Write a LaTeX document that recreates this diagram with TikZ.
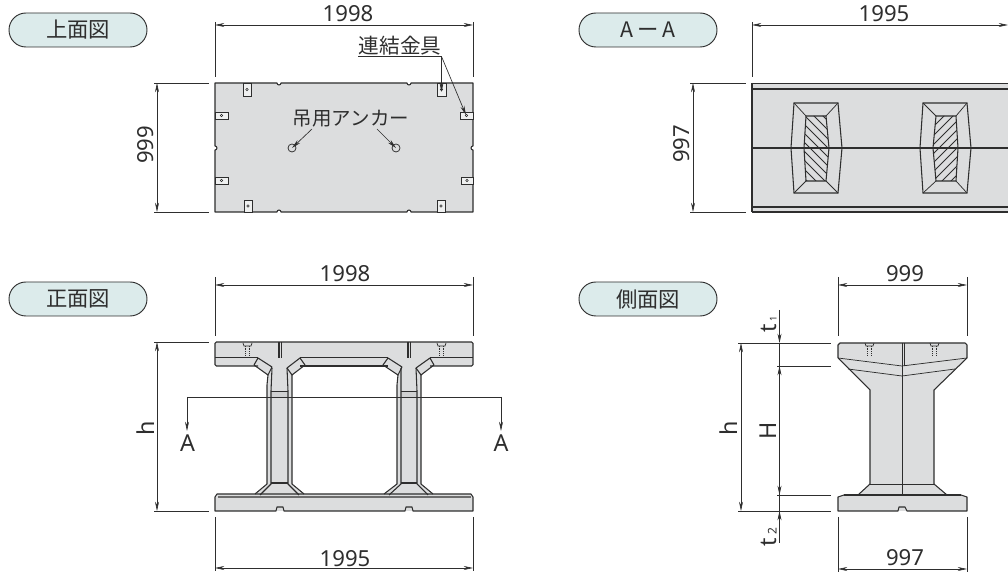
\documentclass[tikz,border=0pt]{standalone}
\usepackage{fontspec}
\setmainfont{Noto Sans}
\newfontfamily\jpf{Noto Sans CJK JP}[Scale=1]
\usetikzlibrary{arrows.meta}
\definecolor{body}{HTML}{DCDDDE}
\definecolor{pillf}{HTML}{DCEBEB}
\definecolor{ink}{HTML}{2E2E2E}
\tikzset{
  pill/.style={draw=ink,line width=0.7pt,fill=pillf,rounded corners=12.7pt,minimum width=103.5pt,minimum height=25.5pt,inner sep=0pt,font=\jpf\fontsize{16pt}{16pt}\selectfont,text=ink},
  lbl/.style={inner sep=0pt,text=ink,font=\fontsize{16.6pt}{17pt}\selectfont},
  letr/.style={inner sep=0pt,text=ink,font=\fontsize{17.5pt}{18pt}\selectfont},
  jl/.style={inner sep=0pt,text=ink,font=\jpf\fontsize{14.6pt}{15pt}\selectfont},
  jm/.style={inner sep=0pt,text=ink,font=\jpf\fontsize{15.5pt}{16pt}\selectfont},
  dimline/.style={draw=ink,line width=0.5pt,{Stealth[length=7pt,width=3pt]}-{Stealth[length=7pt,width=3pt]}},
  extline/.style={draw=ink,line width=0.5pt},
  leadline/.style={draw=ink,line width=0.5pt,-{Stealth[length=7pt,width=3pt]}},
  outl/.style={draw=ink,line width=0.8pt},
  tn/.style={draw=ink,line width=0.55pt},
  hvy/.style={draw=ink,line width=0.95pt},
  gfill/.style={fill=body,draw=none},
  hidd/.style={draw=ink,line width=0.3pt,densely dotted}
}
\newcommand{\winshape}[9]{%
  \draw[outl] (#1,103) -- (#2,103) -- (#4,148) -- (#2,193) -- (#1,193) -- (#3,148) -- cycle;
  \begin{scope}
    \clip (#5,116) -- (#6,116) -- (#8,148) -- (#6,181) -- (#5,181) -- (#7,148) -- cycle;
    \foreach \k in {-60,-51,...,70} {
      \draw[tn] ({#5+#9*(\k-30)+(1-#9)*8},90) -- ({#5+#9*(\k+80)+(1-#9)*8},200);
    }
  \end{scope}
  \draw[outl] (#5,116) -- (#6,116) -- (#8,148) -- (#6,181) -- (#5,181) -- (#7,148) -- cycle;
  \draw[tn] (#1,103) -- (#5,116) (#2,103) -- (#6,116) (#1,193) -- (#5,181) (#2,193) -- (#6,181);
}
\newcommand{\bolt}[2]{%
  \draw[tn] (#1,343) -- (#1+1,346) -- (#2-1,346) -- (#2,343);
  \draw[hidd] (#1+2.5,346) -- (#1+2.5,355) (#2-2.5,346) -- (#2-2.5,355);
}
\begin{document}
\begin{tikzpicture}[x=0.75pt,y=-0.75pt]
\useasboundingbox (0,0) rectangle (1008,573);
\clip (0,0) rectangle (1008,573);

% ---------- pills
\node[pill] (p1) at (78,30) {上面図};
\node[pill] (p2) at (648,30) {A\kern3pt ー\kern3pt A};
\node[pill] (p3) at (78,299) {正面図};
\node[pill] (p4) at (648,299) {側面図};

% ---------- plan view
\draw[outl,fill=body,line join=round] (215,83) -- (277,83) arc[start angle=180,end angle=0,radius=2] -- (407,83) arc[start angle=180,end angle=0,radius=2] -- (473,83)
  -- (473,146) arc[start angle=270,end angle=90,radius=2] -- (473,212)
  -- (411,212) arc[start angle=0,end angle=-180,radius=2] -- (281,212) arc[start angle=0,end angle=-180,radius=2] -- (215,212)
  -- (215,150) arc[start angle=90,end angle=-90,radius=2] -- cycle;
\foreach \xa/\xb/\ya/\yb in {243/251/83/96,437/446/83/96,244/252/200/212,437/445/200/212,215/228/112/119,460/473/112/119,215/228/177/184,461/473/177/184}{
  \draw[tn,fill=white!55!body] (\xa,\ya) rectangle (\xb,\yb);
  \draw[line width=0.4pt,draw=ink] ({(\xa+\xb)/2},{(\ya+\yb)/2}) circle[radius=1.3];
}
\coordinate (a1) at (292,148); \coordinate (a2) at (396,148);
\draw[tn] (a1) circle[radius=4]; \draw[tn] (a2) circle[radius=4];
\node[jl] (anc) at (351,119) {吊用アンカー};
\coordinate (a1s) at (312,129); \coordinate (a2s) at (377,129);
\draw[leadline] (a1s) -- (a1); \draw[leadline] (a2s) -- (a2);
\node[jm] (ren) at (400,46) {連結金具};
\coordinate (u1) at (358,56.5); \coordinate (u2) at (441.5,56.5);
\coordinate (k1) at (441.5,92); \coordinate (k2) at (466,115);
\draw[extline] (u1) -- (u2); \draw[leadline] (u2) -- (k1); \draw[leadline] (u2) -- (k2);
% dims
\coordinate (d1a) at (215,25); \coordinate (d1b) at (473,25);
\draw[dimline] (d1a) -- (d1b);
\draw[extline] (215,22) -- (215,77) (473,22) -- (473,77);
\node[lbl] (t1998a) at (348,14) {1998};
\coordinate (d2a) at (157,83); \coordinate (d2b) at (157,212);
\draw[dimline] (d2a) -- (d2b);
\draw[extline] (154,83) -- (209,83) (154,212) -- (209,212);
\node[lbl,rotate=90] (t999a) at (146,145) {999};

% ---------- section A-A
\path[gfill] (752,83) rectangle (1010,212);
\draw[hvy] (752,83.5) -- (1010,83.5) (752,89) -- (1010,89) (752,207) -- (1010,207) (752,212) -- (1010,212);
\draw[outl] (752,83) -- (752,212);
\draw[outl] (752,148) -- (1010,148);
\winshape{794}{838}{791}{842}{806}{826}{804}{829}{1}
\winshape{923}{967}{920}{971}{936}{956}{933}{958}{-1}
\coordinate (d3a) at (752,25); \coordinate (d3b) at (1008,25);
\draw[dimline] (d3a) -- (d3b);
\draw[extline] (752,22) -- (752,77);
\node[lbl] (t1995a) at (884,14) {1995};
\coordinate (d4a) at (693,83); \coordinate (d4b) at (693,212);
\draw[dimline] (d4a) -- (d4b);
\draw[extline] (690,83) -- (746,83) (690,212) -- (746,212);
\node[lbl,rotate=90] (t997a) at (682,144) {997};

% ---------- front view
\path[gfill] (215,342) rectangle (473,366);
\path[gfill] (215,497) -- (217,494) -- (471,494) -- (473,497) -- (473,511) -- (215,511) -- cycle;
\path[gfill] (258,358) -- (254,365) -- (268,375) -- (267,385) -- (267,484) -- (255,494) -- (305,494) -- (292,484) -- (292,375) -- (305,365) -- (300,358) -- cycle;
\path[gfill] (388,358) -- (383,365) -- (397,375) -- (397,484) -- (384,494) -- (433,494) -- (421,484) -- (421,375) -- (434,365) -- (430,358) -- cycle;
\fill[black!6!body] (271,391) rectangle (288,397) (401,391) rectangle (417,397);
% top slab
\draw[outl,rounded corners=1pt] (258,366) -- (215,366) -- (215,342) -- (473,342) -- (473,366) -- (430,366);
\draw[hvy] (215,357.5) -- (258,357.5) (300,357.5) -- (388,357.5) (430,357.5) -- (473,357.5);
\draw[outl] (300,366) -- (388,366);
\draw[outl] (279,342) -- (279,358) (281.5,342) -- (281.5,358) (408,342) -- (408,358) (410.5,342) -- (410.5,358);
\bolt{243}{252}
\bolt{437}{446}
% haunches left column
\draw[outl,line join=round] (258,358) -- (272,367) -- (268,375) -- (254,365) -- cycle;
\draw[outl,line join=round] (300,358) -- (305,365) -- (292,375) -- (287,368) -- cycle;
\draw[outl] (268,375) -- (267,385) -- (267,484) -- (255,494);
\draw[outl] (292,375) -- (292,484) -- (304,494);
\draw[outl] (272,368) -- (271,391) -- (271,484) -- (260,495);
\draw[outl] (287,368) -- (288,391) -- (288,484) -- (299,495);
\draw[tn] (271,391) -- (288,391);
\draw[outl] (271,483) -- (288,483);
% haunches right column
\draw[outl,line join=round] (388,358) -- (402,367) -- (398,375) -- (383,365) -- cycle;
\draw[outl,line join=round] (430,358) -- (434,365) -- (421,375) -- (416,368) -- cycle;
\draw[outl] (398,375) -- (397,385) -- (397,484) -- (384,494);
\draw[outl] (421,375) -- (421,484) -- (433,494);
\draw[outl] (401,368) -- (401,391) -- (401,484) -- (389,495);
\draw[outl] (416,368) -- (417,391) -- (417,484) -- (428,495);
\draw[tn] (401,391) -- (417,391);
\draw[outl] (401,483) -- (417,483);
% bottom slab
\draw[outl,line join=round] (215,497) -- (217,494) -- (471,494) -- (473,497) -- (473,511) -- (413,511) -- (412,507) -- (406,507) -- (405,511) -- (284,511) -- (283,507) -- (277,507) -- (276,511) -- (215,511) -- cycle;
\draw[hvy,draw=ink!70] (218,497) -- (471,497);
% section line
\coordinate (s1) at (187,397); \coordinate (s2) at (501,397);
\coordinate (s1e) at (187,431); \coordinate (s2e) at (501,431);
\draw[leadline] (s1) -- (s1e);
\draw[leadline] (s2) -- (s2e);
\draw[extline] (s1) -- (s2);
\node[letr] (ta1) at (187.5,443.5) {A};
\node[letr] (ta2) at (501,443.5) {A};
% dims
\coordinate (d5a) at (215,285); \coordinate (d5b) at (473,285);
\draw[dimline] (d5a) -- (d5b);
\draw[extline] (215,277) -- (215,336) (473,277) -- (473,336);
\node[lbl] (t1998b) at (345,274) {1998};
\coordinate (d6a) at (215,568); \coordinate (d6b) at (473,568);
\draw[dimline] (d6a) -- (d6b);
\draw[extline] (215,517) -- (215,571) (473,517) -- (473,571);
\node[lbl] (t1995b) at (345,559) {1995};
\coordinate (d7a) at (157,342); \coordinate (d7b) at (157,511);
\draw[dimline] (d7a) -- (d7b);
\draw[extline] (154,342.5) -- (209,342.5) (154,511) -- (209,511);
\node[letr,rotate=90] (th1) at (145.5,428) {h};

% ---------- side view
\path[gfill] (838,345) -- (840,343) -- (965,343) -- (967,345) -- (967,358) -- (934,390) -- (934,484) -- (947,495) -- (961,495) -- (967,497) -- (967,511) -- (838,511) -- (838,497) -- (844,495) -- (858,495) -- (870,484) -- (870,390) -- (838,358) -- cycle;
\draw[outl,line join=round] (838,358) -- (838,345) -- (840,343) -- (965,343) -- (967,345) -- (967,358);
\draw[outl] (838,358) -- (870,390) -- (870,484) -- (858,495);
\draw[outl] (967,358) -- (934,390) -- (934,484) -- (947,495);
\draw[tn] (838,358) -- (902,366) -- (967,358);
\draw[tn] (848,369) -- (902,376) -- (955,369);
\draw[tn] (870,484) -- (934,484);
\draw[outl] (844,495) -- (961,495);
\draw[outl,line join=round] (844,495) -- (838,497) -- (838,511) -- (898,511) -- (899,507) -- (905,507) -- (907,511) -- (967,511) -- (967,497) -- (961,495);
\draw[tn] (902,343) -- (902,495);
\draw[tn] (904.5,343) -- (904.5,366);
\bolt{865}{874}
\bolt{930}{939}
% dims
\coordinate (d8a) at (838,285); \coordinate (d8b) at (967,285);
\draw[dimline] (d8a) -- (d8b);
\draw[extline] (838,277) -- (838,336) (967,277) -- (967,336);
\node[lbl] (t999b) at (905,274) {999};
\coordinate (d9a) at (838,569); \coordinate (d9b) at (967,569);
\draw[dimline] (d9a) -- (d9b);
\draw[extline] (838,517) -- (838,572) (967,517) -- (967,572);
\node[lbl] (t997b) at (905,558) {997};
\coordinate (d10a) at (741,343); \coordinate (d10b) at (741,511);
\draw[dimline] (d10a) -- (d10b);
\draw[extline] (738,343) -- (831,343) (777,366) -- (831,366) (777,495) -- (831,495) (738,511) -- (831,511);
\coordinate (h1) at (779.5,310); \coordinate (h2) at (779.5,343); \coordinate (h3) at (779.5,366);
\coordinate (h4) at (779.5,495); \coordinate (h5) at (779.5,511); \coordinate (h6) at (779.5,543);
\draw[leadline] (h1) -- (h2); \draw[dimline] (h3) -- (h4); \draw[extline] (h2) -- (h5); \draw[leadline] (h6) -- (h5);
\node[letr,rotate=90] (th2) at (729,428) {h};
\node[letr,rotate=90] (tH) at (768.5,431) {H};
\node[letr,rotate=90,anchor=west] (tt1) at (769,333) {t\kern2pt\raisebox{0pt}{\fontsize{7pt}{7pt}\selectfont 1}};
\node[letr,rotate=90,anchor=west] (tt2) at (769,547) {t\kern3pt\raisebox{0pt}{\fontsize{9pt}{9pt}\selectfont 2}};
\end{tikzpicture}
\end{document}
